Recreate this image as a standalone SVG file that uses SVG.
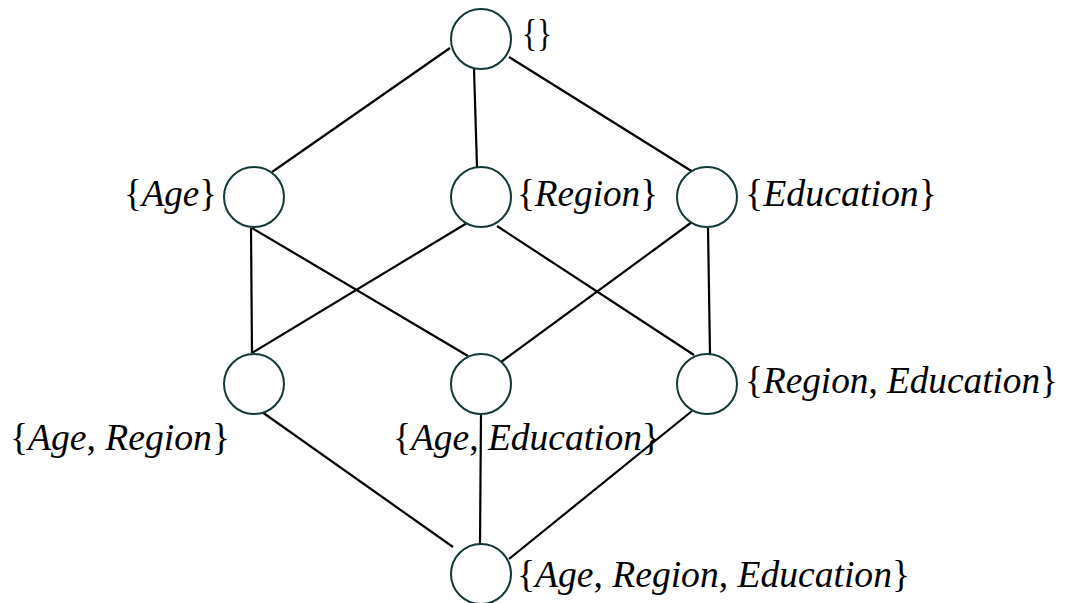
<svg xmlns="http://www.w3.org/2000/svg" width="1070" height="603" viewBox="0 0 1070 603">
  <style>
    .node { fill: #ffffff; stroke: #133838; stroke-width: 2; }
    .edge { stroke: #000000; stroke-width: 2.2; fill: none; stroke-linecap: butt; }
    .lbl { font-family: 'Liberation Serif', serif; font-size: 38px; font-style: italic; fill: #000000; }
    .up { font-style: normal; }
  </style>
  <rect width="1070" height="603" fill="#ffffff"/>

  <!-- lattice edges -->
  <g id="edges">
    <line class="edge" x1="450" y1="48" x2="272" y2="172"/>
    <line class="edge" x1="474" y1="69" x2="477" y2="167"/>
    <line class="edge" x1="509" y1="57" x2="693" y2="172"/>
    <line class="edge" x1="251" y1="228" x2="252" y2="353"/>
    <line class="edge" x1="252" y1="228" x2="468" y2="356"/>
    <line class="edge" x1="467" y1="223" x2="252" y2="353"/>
    <line class="edge" x1="497" y1="226" x2="694" y2="355"/>
    <line class="edge" x1="692" y1="222" x2="501" y2="362"/>
    <line class="edge" x1="708" y1="228" x2="710" y2="354"/>
    <line class="edge" x1="262" y1="412" x2="453" y2="547"/>
    <line class="edge" x1="481" y1="412" x2="480" y2="545"/>
    <line class="edge" x1="692" y1="411" x2="509" y2="559"/>
  </g>

  <g id="n-empty">
    <circle class="node" cx="481" cy="39" r="30"/>
    <text class="lbl" x="522" y="46" textLength="30" lengthAdjust="spacingAndGlyphs"><tspan class="up">{}</tspan></text>
  </g>
  <g id="n-age">
    <circle class="node" cx="254" cy="197" r="30"/>
    <text class="lbl" x="124" y="206" textLength="93" lengthAdjust="spacingAndGlyphs"><tspan class="up">{</tspan>Age<tspan class="up">}</tspan></text>
  </g>
  <g id="n-region">
    <circle class="node" cx="481" cy="197" r="30"/>
    <text class="lbl" x="517" y="206" textLength="141" lengthAdjust="spacingAndGlyphs"><tspan class="up">{</tspan>Region<tspan class="up">}</tspan></text>
  </g>
  <g id="n-education">
    <circle class="node" cx="707" cy="197" r="30"/>
    <text class="lbl" x="745" y="206" textLength="192" lengthAdjust="spacingAndGlyphs"><tspan class="up">{</tspan>Education<tspan class="up">}</tspan></text>
  </g>
  <g id="n-age-region">
    <circle class="node" cx="254" cy="384" r="30"/>
    <text class="lbl" x="10" y="450" textLength="220" lengthAdjust="spacingAndGlyphs"><tspan class="up">{</tspan>Age<tspan class="up">, </tspan>Region<tspan class="up">}</tspan></text>
  </g>
  <g id="n-age-education">
    <circle class="node" cx="481" cy="384" r="30"/>
    <text class="lbl" x="393" y="450" textLength="267" lengthAdjust="spacingAndGlyphs"><tspan class="up">{</tspan>Age<tspan class="up">, </tspan>Education<tspan class="up">}</tspan></text>
  </g>
  <g id="n-region-education">
    <circle class="node" cx="707" cy="384" r="30"/>
    <text class="lbl" x="745" y="393" textLength="313" lengthAdjust="spacingAndGlyphs"><tspan class="up">{</tspan>Region<tspan class="up">, </tspan>Education<tspan class="up">}</tspan></text>
  </g>
  <g id="n-all">
    <circle class="node" cx="481" cy="574" r="30"/>
    <text class="lbl" x="517" y="587" textLength="393" lengthAdjust="spacingAndGlyphs"><tspan class="up">{</tspan>Age<tspan class="up">, </tspan>Region<tspan class="up">, </tspan>Education<tspan class="up">}</tspan></text>
  </g>
</svg>
